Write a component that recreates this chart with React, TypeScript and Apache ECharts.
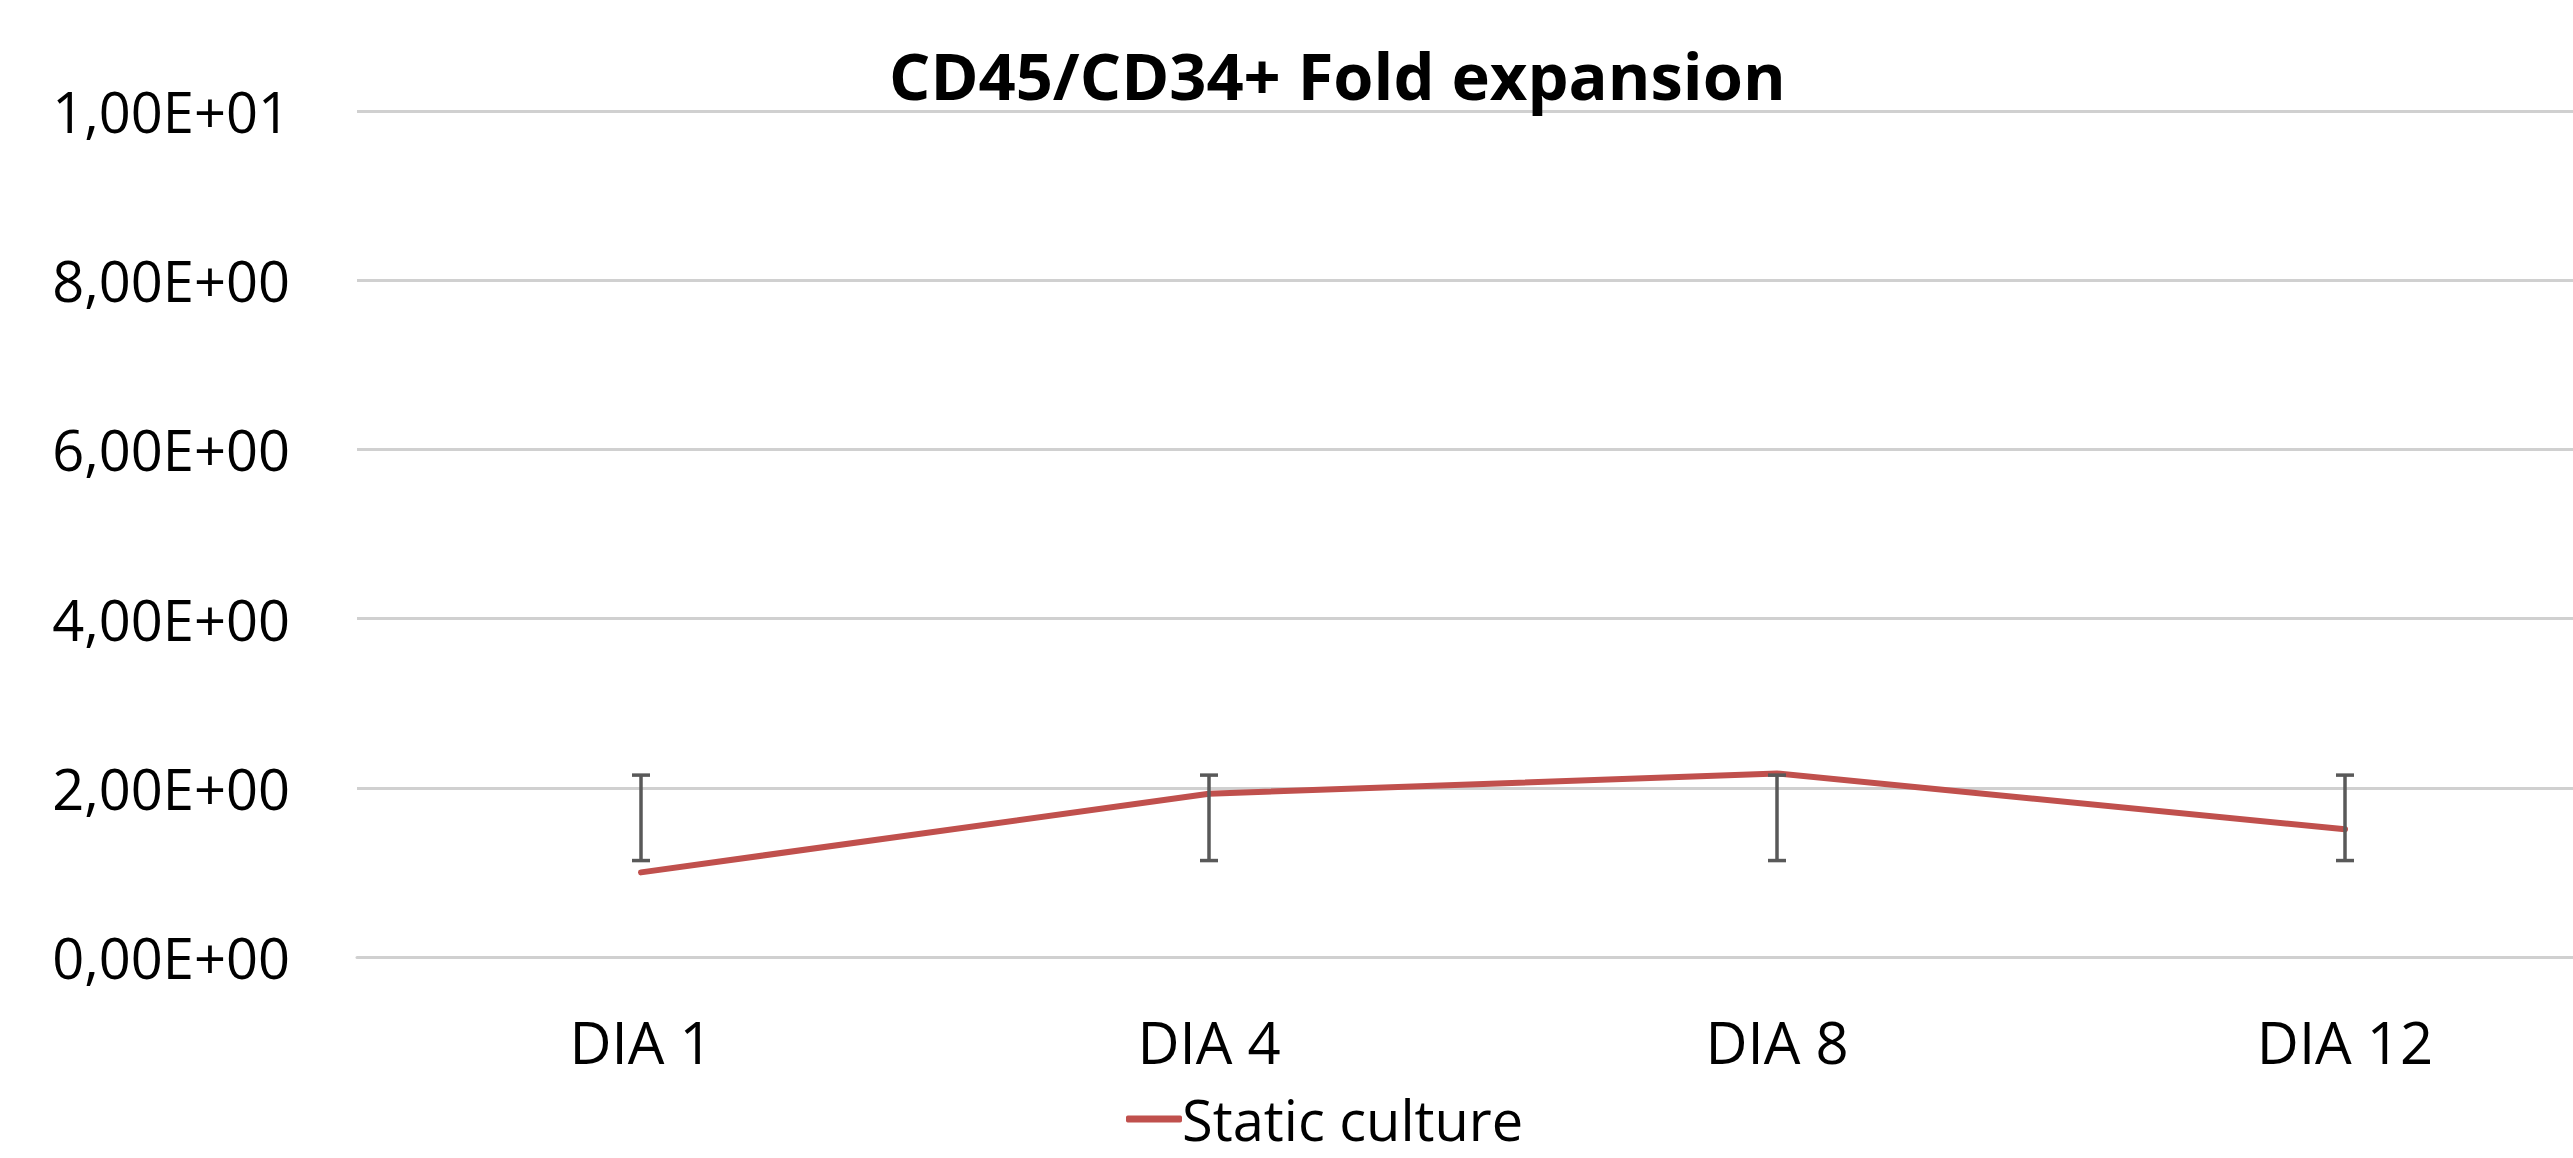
import React, { useEffect, useRef } from "react";
import * as echarts from "echarts";

const titleText = "CD45/CD34+ Fold expansion";
const seriesName = "Static culture";
const categories = ["DIA 1", "DIA 4", "DIA 8", "DIA 12"];
const values = [1.0, 1.93, 2.17, 1.51];
const errLow = [1.14, 1.14, 1.14, 1.14];
const errHigh = [2.15, 2.15, 2.15, 2.15];
const yTicks = [0, 2, 4, 6, 8, 10];
const yTickLabels = ["0,00E+00", "2,00E+00", "4,00E+00", "6,00E+00", "8,00E+00", "1,00E+01"];

const FONT = "'Open Sans', 'Noto Sans', sans-serif";

export default function App() {
  const ref = useRef<HTMLDivElement>(null);
  useEffect(() => {
    document.body.style.margin = "0";
    document.body.style.overflow = "hidden";
    if (!ref.current) return;
    const chart = echarts.init(ref.current, undefined, { renderer: "svg" });
    const errData = categories.map((_, i) => [i, errLow[i], errHigh[i]]);
    chart.setOption({
      animation: false,
      backgroundColor: "#ffffff",
      textStyle: { fontFamily: FONT },
      title: {
        text: titleText,
        left: 889,
        top: 42,
        padding: 0,
        textStyle: { fontFamily: FONT, fontSize: 65, fontWeight: "bold", color: "#000000" },
      },
      legend: {
        left: 1126,
        top: 1091,
        padding: 0,
        itemWidth: 56,
        itemHeight: 7,
        itemGap: 20,
        data: [{ name: seriesName, icon: "roundRect", itemStyle: { color: "#C0504D" } }],
        textStyle: {
          fontFamily: FONT,
          fontSize: 56,
          lineHeight: 56,
          color: "#000000",
          padding: [0, 0, 0, -5],
        },
      },
      grid: { left: 357, top: 111, width: 2272, height: 846, containLabel: false },
      xAxis: {
        type: "category",
        data: categories,
        boundaryGap: true,
        axisLine: { show: true, lineStyle: { color: "#D0D0D0", width: 3 } },
        axisTick: { show: false },
        axisLabel: { fontFamily: FONT, fontSize: 58, color: "#000000", margin: 55 },
        splitLine: { show: false },
      },
      yAxis: {
        type: "value",
        min: 0,
        max: 10,
        interval: 2,
        axisLine: { show: false },
        axisTick: { show: false },
        axisLabel: {
          fontFamily: FONT,
          fontSize: 56,
          color: "#000000",
          margin: 67,
          formatter: (v: number) => {
            const i = yTicks.indexOf(v);
            return i >= 0 ? yTickLabels[i] : "";
          },
        },
        splitLine: { show: true, lineStyle: { color: "#D0D0D0", width: 3 } },
      },
      series: [
        {
          name: seriesName,
          type: "line",
          data: values,
          symbol: "none",
          lineStyle: { color: "#C0504D", width: 6, cap: "round", join: "round" },
          itemStyle: { color: "#C0504D" },
          z: 2,
        },
        {
          name: "err",
          type: "custom",
          data: errData,
          z: 3,
          renderItem: (params: any, api: any) => {
            const x = api.value(0);
            const lo = api.coord([x, api.value(1)]);
            const hi = api.coord([x, api.value(2)]);
            const half = 9;
            const style = { stroke: "#595959", lineWidth: 3.5 };
            return {
              type: "group",
              children: [
                { type: "line", shape: { x1: lo[0], y1: lo[1], x2: hi[0], y2: hi[1] }, style },
                { type: "line", shape: { x1: hi[0] - half, y1: hi[1], x2: hi[0] + half, y2: hi[1] }, style },
                { type: "line", shape: { x1: lo[0] - half, y1: lo[1], x2: lo[0] + half, y2: lo[1] }, style },
              ],
            };
          },
        },
      ],
    });
    return () => chart.dispose();
  }, []);
  return (
    <div style={{ width: 2573, height: 1158, overflow: "hidden", position: "relative" }}>
      <div ref={ref} style={{ width: 2640, height: 1158 }} />
    </div>
  );
}
